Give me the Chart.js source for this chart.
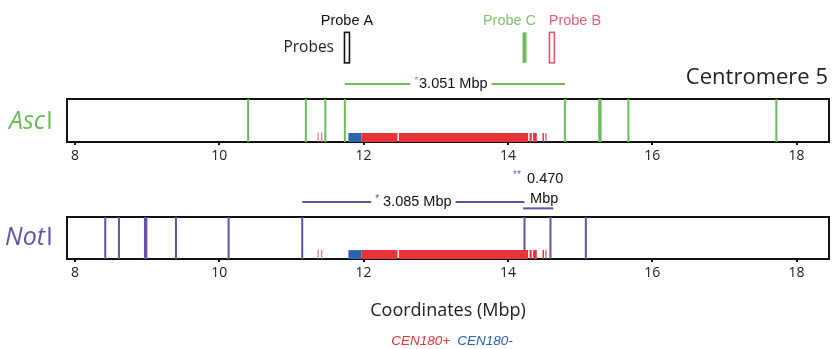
<!DOCTYPE html>
<html>
<head>
<meta charset="utf-8">
<script src="https://cdn.jsdelivr.net/npm/chart.js@4.4.0/dist/chart.umd.min.js"></script>
<style>
  body { margin: 0; background: #fff; }
  #wrap { position: relative; width: 838px; height: 349px; }
  .panel { position: absolute; left: 0; width: 838px; }
</style>
</head>
<body>
<div id="wrap">
  <div class="panel" style="top:0;height:172px"><canvas id="ascChart" width="838" height="172"></canvas></div>
  <div class="panel" style="top:160px;height:189px"><canvas id="notChart" width="838" height="189"></canvas></div>
</div>
<script>
// chromosome 5 window, Mbp
const tickValues = [8, 10, 12, 14, 16, 18];
const xRange = [7.89, 18.45];

// restriction sites
const ascSites = [10.40, 11.20, 11.47, 11.74, 14.79, 15.265, 15.285, 15.67, 17.72];
const notSites = [8.42, 8.61, 8.97, 8.99, 9.40, 10.13, 11.15, 14.23, 14.59, 15.08];

// CEN180 repeat arrays
const cenPlusBlocks = [[11.97, 12.47], [12.49, 14.28], [14.30, 14.33], [14.35, 14.40], [14.48, 14.50], [14.52, 14.535]];
const cenMinusBlocks = [[11.79, 11.97]];
const cenPlusMarks = [11.37, 11.42];

const probeNames = ['Probe A', 'Probe C', 'Probe B'];
const probeSites = [11.77, 14.23, 14.61];

const ascSpan = [11.74, 14.79];
const ascSpanLabel = '3.051 Mbp';
const notSpan = [11.15, 14.23];
const notSpanLabel = '3.085 Mbp';
const notShortSpan = [14.21, 14.63];
const notShortLabel = ['0.470', 'Mbp'];

const legendLabels = ['CEN180+', 'CEN180-'];

const GREEN = '#6cbd58';
const PURPLE = '#6652a3';
const RED = '#e8333b';
const BLUE = '#2b63b1';
const PINK = '#e25a76';
const SANS = '"Open Sans", sans-serif';
const ARIAL = '"Liberation Sans", Arial, sans-serif';

function cutLines(sites, y0 = 0, y1 = 1) {
  const pts = [];
  sites.forEach(s => pts.push({ x: s, y: y0 }, { x: s, y: y1 }, { x: s, y: null }));
  return pts;
}

function segments(ranges, y) {
  const pts = [];
  ranges.forEach(r => pts.push({ x: r[0], y: y }, { x: r[1], y: y }, { x: r[1], y: null }));
  return pts;
}

function trackDatasets(sites, color) {
  return [
    { label: legendLabels[0], data: segments(cenPlusBlocks, 0.105), borderColor: RED, borderWidth: 9, order: 0 },
    { label: legendLabels[1], data: segments(cenMinusBlocks, 0.105), borderColor: BLUE, borderWidth: 9, order: 0 },
    { label: 'marks', data: cutLines(cenPlusMarks, 0, 0.22), borderColor: PINK, borderWidth: 1, order: 0 },
    { label: 'sites', data: cutLines(sites), borderColor: color, borderWidth: 2, order: 1 }
  ];
}

function spanDataset(span, y, color) {
  return { label: 'span', data: segments([span], y), borderColor: color, borderWidth: 2, clip: false, order: 2 };
}

function xScale(extra) {
  return Object.assign({
    type: 'linear',
    min: xRange[0],
    max: xRange[1],
    afterBuildTicks: s => { s.ticks = tickValues.map(v => ({ value: v })); },
    grid: { drawOnChartArea: false, drawTicks: true, tickLength: 3, color: '#111', lineWidth: 2 },
    border: { display: false },
    ticks: { font: { family: SANS, size: 14 }, color: '#222', padding: 3 }
  }, extra);
}

function baseOptions(x, padding) {
  return {
    responsive: false,
    animation: false,
    events: [],
    layout: { padding: padding },
    elements: { point: { radius: 0 }, line: { fill: false, tension: 0, borderCapStyle: 'butt' } },
    spanGaps: false,
    plugins: { legend: { display: false }, tooltip: { enabled: false } },
    scales: { x: x, y: { type: 'linear', min: 0, max: 1, display: false } }
  };
}

const frame = {
  id: 'frame',
  beforeDatasetsDraw(chart) {
    const { ctx, chartArea: a } = chart;
    ctx.save();
    ctx.strokeStyle = '#111';
    ctx.lineWidth = 2;
    ctx.strokeRect(a.left, a.top, a.right - a.left, a.bottom - a.top);
    ctx.restore();
  }
};

function put(ctx, str, x, y, font, color, align) {
  ctx.font = font;
  ctx.fillStyle = color;
  ctx.textAlign = align || 'center';
  ctx.textBaseline = 'middle';
  ctx.fillText(str, x, y);
}

// enzyme name: italic genus part, upright roman numeral
function enzymeLabel(ctx, name, x, y, color) {
  const it = 'italic 25px ' + SANS, up = '25px ' + SANS;
  const head = name.slice(0, -1), tail = name.slice(-1);
  ctx.font = up;
  const wTail = ctx.measureText(tail).width;
  put(ctx, tail, x, y, up, color, 'right');
  put(ctx, head, x - wTail - 1, y, it, color, 'right');
}

// span label: optional asterisk + text, on a white patch over the line
function spanLabel(ctx, star, starColor, str, cx, cy, gap) {
  const f = '14.5px ' + ARIAL, fs = '10px ' + ARIAL;
  ctx.font = f;
  const w = ctx.measureText(str).width;
  ctx.font = fs;
  const ws = ctx.measureText(star).width;
  const total = ws + gap + w;
  ctx.fillStyle = '#fff';
  ctx.fillRect(cx - total / 2 - 4, cy - 6, total + 8, 12);
  put(ctx, star, cx - total / 2, cy - 3, fs, starColor, 'left');
  put(ctx, str, cx - total / 2 + ws + gap, cy, f, '#111', 'left');
}

const ascText = {
  id: 'ascText',
  afterDatasetsDraw(chart) {
    const { ctx, chartArea: a, scales: { x, y } } = chart;
    ctx.save();
    const top = y.getPixelForValue(2.55), bot = y.getPixelForValue(1.84);
    const shift = [0, -15, 23];
    probeSites.forEach((p, i) => {
      const px = x.getPixelForValue(p);
      if (i === 1) {
        ctx.fillStyle = GREEN;
        ctx.fillRect(px - 2, top, 4, bot - top);
      } else {
        ctx.strokeStyle = i === 0 ? '#111' : PINK;
        ctx.lineWidth = 1.6;
        ctx.strokeRect(px - 2.5, top, 5, bot - top);
      }
      const col = i === 0 ? '#111' : (i === 1 ? '#7cc46a' : '#e8607a');
      put(ctx, probeNames[i], px + shift[i], 21, '14.5px ' + ARIAL, col, 'center');
    });
    put(ctx, 'Probes', x.getPixelForValue(probeSites[0]) - 13, 48, '15.5px ' + SANS, '#222', 'right');

    const mid = (x.getPixelForValue(ascSpan[0]) + x.getPixelForValue(ascSpan[1])) / 2 - 4;
    spanLabel(ctx, '*', GREEN, ascSpanLabel, mid, y.getPixelForValue(1.35), 1);

    put(ctx, 'Centromere 5', a.right - 1, 78, '22px ' + SANS, '#222', 'right');
    enzymeLabel(ctx, 'AscI', a.left - 14, 122, GREEN);
    ctx.restore();
  }
};

const notText = {
  id: 'notText',
  afterDatasetsDraw(chart) {
    const { ctx, chartArea: a, scales: { x, y } } = chart;
    ctx.save();
    const mid = (x.getPixelForValue(notSpan[0]) + x.getPixelForValue(notSpan[1])) / 2;
    spanLabel(ctx, '*', PURPLE, notSpanLabel, mid, y.getPixelForValue(1.355), 4);

    const mid2 = (x.getPixelForValue(notShortSpan[0]) + x.getPixelForValue(notShortSpan[1])) / 2;
    const f = '14.5px ' + ARIAL;
    ctx.font = f;
    const w = ctx.measureText(notShortLabel[0]).width;
    const left = mid2 - (w + 14) / 2;
    put(ctx, '**', left, y.getPixelForValue(1.915) - 3, '10px ' + ARIAL, '#4f6fc0', 'left');
    put(ctx, notShortLabel[0], left + 14, y.getPixelForValue(1.915), f, '#111', 'left');
    put(ctx, notShortLabel[1], mid2 + 6, y.getPixelForValue(1.44), f, '#111', 'center');

    enzymeLabel(ctx, 'NotI', a.left - 14, 78, PURPLE);

    // legend
    const lf = 'italic 13.5px ' + ARIAL;
    ctx.font = lf;
    const w0 = ctx.measureText(legendLabels[0]).width, w1 = ctx.measureText(legendLabels[1]).width;
    const lx = 452 - (w0 + 7 + w1) / 2;
    put(ctx, legendLabels[0], lx, 181, lf, RED, 'left');
    put(ctx, legendLabels[1], lx + w0 + 7, 181, lf, BLUE, 'left');
    ctx.restore();
  }
};

new Chart(document.getElementById('ascChart'), {
  type: 'line',
  data: {
    datasets: trackDatasets(ascSites, GREEN).concat([spanDataset(ascSpan, 1.35, GREEN)])
  },
  options: baseOptions(xScale({ afterFit: s => { s.height = 30; } }), { top: 99, left: 67, right: 9, bottom: 0 }),
  plugins: [frame, ascText]
});

new Chart(document.getElementById('notChart'), {
  type: 'line',
  data: {
    datasets: trackDatasets(notSites, PURPLE).concat([
      spanDataset(notSpan, 1.355, PURPLE),
      spanDataset(notShortSpan, 1.206, PURPLE)
    ])
  },
  options: baseOptions(xScale({
    afterFit: s => { s.height = 63; },
    title: { display: true, text: 'Coordinates (Mbp)', font: { family: SANS, size: 18 }, color: '#222', padding: 0 }
  }), { top: 57, left: 67, right: 9, bottom: 27 }),
  plugins: [frame, notText]
});
</script>
</body>
</html>
